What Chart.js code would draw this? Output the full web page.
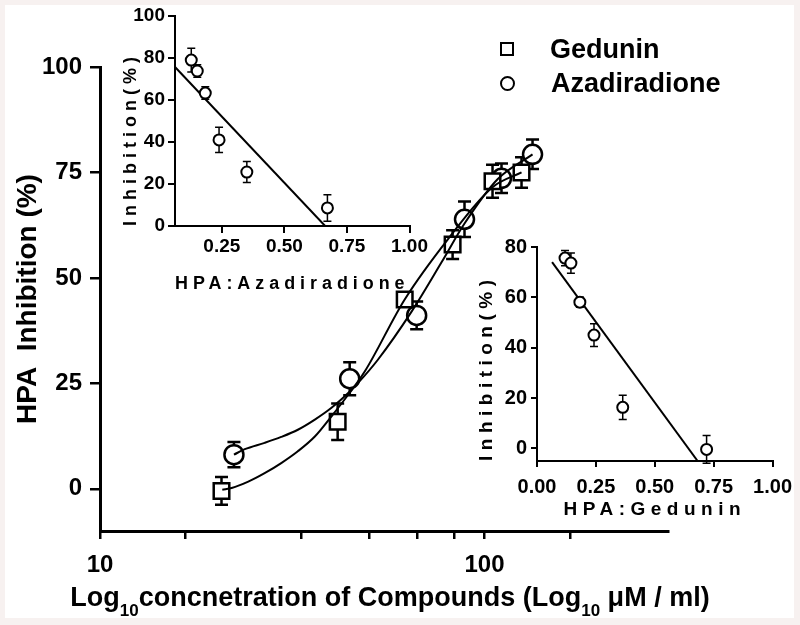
<!DOCTYPE html>
<html>
<head>
<meta charset="utf-8">
<script src="https://cdn.jsdelivr.net/npm/chart.js@4.4.1/dist/chart.umd.min.js"></script>
<style>
  html, body { margin: 0; padding: 0; }
  body {
    width: 800px; height: 625px; position: relative; overflow: hidden;
    background: #f7f1f0;
    font-family: "Liberation Sans", Arial, sans-serif;
  }
  #paper { position: absolute; left: 5px; top: 5px; width: 789px; height: 613px; background: #fff; }
  canvas { position: absolute; }
  #main { left: 0; top: 0; }
  #insetAz { left: 100px; top: 0; }
  #insetGed { left: 460px; top: 230px; }
  #legend { position: absolute; left: 500px; top: 32px; font-weight: bold; font-size: 27px; color: #000; }
  #legend .row { height: 34px; display: flex; align-items: center; }
  #legend .mk { width: 10px; height: 10px; border: 2px solid #000; margin-right: 36px; box-sizing: content-box; }
  #legend .mk.circle { width: 11px; height: 11px; border-radius: 50%; }
</style>
</head>
<body>
<div id="paper"></div>
<canvas id="main" width="800" height="625"></canvas>
<canvas id="insetAz" width="330" height="300"></canvas>
<canvas id="insetGed" width="340" height="300"></canvas>
<div id="legend"></div>
<script>
// main plot: concentration (log axis) vs % inhibition
const seriesNames = ['Gedunin', 'Azadiradione'];

const gedX = [20.7, 41.5, 62.0, 82.6, 104.9, 124.8];
const gedY = [-0.5, 15.9, 44.9, 57.9, 72.9, 75.0];
const gedErr = [3.3, 4.3, 1.5, 3.4, 3.9, 3.6];

const azX = [22.3, 44.6, 66.6, 88.7, 110.7, 133.3];
const azY = [8.1, 26.1, 41.1, 63.9, 73.6, 79.3];
const azErr = [3.0, 3.9, 3.3, 4.2, 3.5, 3.5];

// fitted curves
const gedCurveX = [20.8, 22.0, 24.3, 26.8, 29.6, 32.7, 36.2, 40.0, 44.2, 48.8, 62.0, 80.2, 104.9, 124.8];
const gedCurveY = [-0.2, 0.2, 1.7, 3.7, 6.1, 8.9, 12.4, 17.2, 22.3, 27.8, 44.9, 59.1, 71.5, 75.0];
const azCurveX = [22.3, 23.8, 26.8, 29.6, 32.7, 36.2, 40.0, 44.2, 46.9, 52.8, 64.6, 77.3, 88.7, 108.1, 133.3];
const azCurveY = [8.1, 9.4, 10.9, 12.3, 14.0, 16.4, 19.2, 22.7, 25.1, 30.6, 42.0, 53.7, 62.9, 73.4, 79.3];

const xTickValues = [10, 16.67, 33.33, 50, 66.67, 83.33, 100, 166.67];
const xTickLabels = ['10', '', '', '', '', '', '100', ''];
const yTickValues = [0, 25, 50, 75, 100];

// inset: HPA:Azadiradione
const azRatio = [0.128, 0.152, 0.184, 0.239, 0.350, 0.672];
const azInhib = [79.0, 73.8, 63.3, 41.0, 25.7, 8.6];
const azInhibErr = [5.7, 3.0, 3.0, 6.0, 5.0, 6.3];
const azLineX = [0.063, 0.663];
const azLineY = [75.7, 0];
const azInsetXTicks = [0.25, 0.5, 0.75, 1.0];
const azInsetYTicks = [0, 20, 40, 60, 80, 100];

// inset: HPA:Gedunin
const gedRatio = [0.119, 0.144, 0.182, 0.242, 0.364, 0.720];
const gedInhib = [75.6, 73.6, 58.1, 45.0, 16.3, -0.4];
const gedInhibErr = [3.0, 4.0, 2.0, 4.5, 4.8, 5.5];
const gedLineX = [0.064, 0.682];
const gedLineY = [74.0, -5.0];
const gedInsetXTicks = [0, 0.25, 0.5, 0.75, 1.0];
const gedInsetYTicks = [0, 20, 40, 60, 80];

const FONT = '"Liberation Sans", Arial, sans-serif';
Chart.defaults.font.family = FONT;
Chart.defaults.color = '#000';

const pts = (xs, ys) => xs.map((x, i) => ({ x: x, y: ys[i] }));

const errorBars = {
    id: 'errorBars',
    beforeDatasetsDraw(chart, args, opts) {
        const ctx = chart.ctx;
        chart.data.datasets.forEach((ds, i) => {
            if (!ds.errors) return;
            const meta = chart.getDatasetMeta(i);
            const yScale = chart.scales[meta.yAxisID];
            const half = opts.capWidth / 2;
            ctx.save();
            ctx.strokeStyle = '#000';
            ctx.lineWidth = opts.lineWidth;
            meta.data.forEach((el, j) => {
                const v = ds.data[j].y, e = ds.errors[j];
                const top = yScale.getPixelForValue(v + e);
                const bot = yScale.getPixelForValue(v - e);
                ctx.beginPath();
                ctx.moveTo(el.x, top); ctx.lineTo(el.x, bot);
                ctx.moveTo(el.x - half, top); ctx.lineTo(el.x + half, top);
                ctx.moveTo(el.x - half, bot); ctx.lineTo(el.x + half, bot);
                ctx.stroke();
            });
            ctx.restore();
        });
    }
};

// x title with subscripts, drawn by hand
const xTitle = {
    id: 'xTitle',
    afterDraw(chart, args, o) {
        const ctx = chart.ctx;
        const fontFor = p => `bold ${p.sub ? o.subSize : o.size}px ${FONT}`;
        ctx.save();
        ctx.fillStyle = '#000';
        ctx.textBaseline = 'alphabetic';
        ctx.textAlign = 'left';
        let total = 0;
        o.parts.forEach(p => { ctx.font = fontFor(p); total += ctx.measureText(p.text).width; });
        let x = o.centerX - total / 2;
        o.parts.forEach(p => {
            ctx.font = fontFor(p);
            ctx.fillText(p.text, x, p.sub ? o.baseline + o.subDrop : o.baseline);
            x += ctx.measureText(p.text).width;
        });
        ctx.restore();
    }
};

// letter-spaced axis titles in the insets; tick labels are drawn later without spacing
const spacedTitles = {
    id: 'spacedTitles',
    beforeDraw(chart, args, o) { chart.ctx.letterSpacing = o.spacing; },
    beforeDatasetsDraw(chart) { chart.ctx.letterSpacing = '0px'; }
};

const axisLine = (w) => ({ display: true, color: '#000', width: w });
const tickMarks = (len, w) => ({ drawOnChartArea: false, drawTicks: true, tickLength: len, color: '#000', lineWidth: w });

new Chart(document.getElementById('main'), {
    type: 'scatter',
    data: {
        datasets: [
            {
                type: 'line', label: seriesNames[0] + ' fit', data: pts(gedCurveX, gedCurveY),
                borderColor: '#000', borderWidth: 2, pointRadius: 0, fill: false,
                cubicInterpolationMode: 'monotone', order: 0
            },
            {
                type: 'line', label: seriesNames[1] + ' fit', data: pts(azCurveX, azCurveY),
                borderColor: '#000', borderWidth: 2, pointRadius: 0, fill: false,
                cubicInterpolationMode: 'monotone', order: 0
            },
            {
                label: seriesNames[0], data: pts(gedX, gedY), errors: gedErr,
                pointStyle: 'rect', pointRadius: 11, borderWidth: 2.5,
                borderColor: '#000', backgroundColor: '#fff', clip: false, order: 1
            },
            {
                label: seriesNames[1], data: pts(azX, azY), errors: azErr,
                pointStyle: 'circle', pointRadius: 9.5, borderWidth: 2.5,
                borderColor: '#000', backgroundColor: '#fff', clip: false, order: 1
            }
        ]
    },
    options: {
        responsive: false,
        animation: false,
        events: [],
        layout: { padding: { left: 0, top: 67, right: 132, bottom: 0 } },
        plugins: {
            legend: { display: false },
            tooltip: { enabled: false },
            errorBars: { capWidth: 13, lineWidth: 2.5 },
            xTitle: {
                size: 27, subSize: 17, baseline: 606, subDrop: 10, centerX: 390,
                parts: [
                    { text: 'Log' }, { text: '10', sub: true },
                    { text: 'concnetration of Compounds (Log' }, { text: '10', sub: true },
                    { text: ' \u03BCM / ml)' }
                ]
            }
        },
        scales: {
            x: {
                type: 'logarithmic', min: 10, max: 300,
                afterBuildTicks: s => { s.ticks = xTickValues.map(v => ({ value: v })); },
                afterFit: s => { s.height = 94; },
                ticks: {
                    autoSkip: false, maxRotation: 0, padding: 12,
                    font: { size: 24, weight: 'bold' },
                    callback: (v, i) => xTickLabels[i]
                },
                grid: tickMarks(8, 2.5),
                border: axisLine(3)
            },
            y: {
                min: -10, max: 100,
                afterBuildTicks: s => { s.ticks = yTickValues.map(v => ({ value: v })); },
                afterFit: s => { s.width = 100; },
                ticks: { padding: 8, font: { size: 24, weight: 'bold' } },
                grid: tickMarks(10, 2.5),
                border: axisLine(3),
                title: {
                    display: true, text: 'HPA  Inhibition (%)', color: '#000',
                    font: { size: 28, weight: 'bold' }, padding: { top: 11, bottom: 0 }
                }
            }
        }
    },
    plugins: [errorBars, xTitle]
});

function insetChart(canvasId, cfg) {
    return new Chart(document.getElementById(canvasId), {
        type: 'scatter',
        data: {
            datasets: [
                {
                    label: cfg.name, data: pts(cfg.x, cfg.y), errors: cfg.err,
                    pointStyle: 'circle', pointRadius: 5.5, borderWidth: 2,
                    borderColor: '#000', backgroundColor: '#fff', clip: false, order: 0
                },
                {
                    type: 'line', label: cfg.name + ' fit', data: pts(cfg.lineX, cfg.lineY),
                    borderColor: '#000', borderWidth: 2, pointRadius: 0, fill: false, order: 1
                }
            ]
        },
        options: {
            responsive: false,
            animation: false,
            events: [],
            layout: { padding: cfg.padding },
            plugins: {
                legend: { display: false },
                tooltip: { enabled: false },
                errorBars: { capWidth: 8, lineWidth: 1.5 },
                spacedTitles: { spacing: cfg.spacing }
            },
            scales: {
                x: {
                    type: 'linear', min: cfg.xMin, max: 1,
                    afterBuildTicks: s => { s.ticks = cfg.xTicks.map(v => ({ value: v })); },
                    afterFit: s => { s.height = cfg.xHeight; },
                    ticks: {
                        z: 1, autoSkip: false, maxRotation: 0, padding: cfg.xPad,
                        font: { size: cfg.fontSize, weight: 'bold' },
                        callback: v => v.toFixed(2)
                    },
                    grid: tickMarks(cfg.tick, 2),
                    border: axisLine(2),
                    title: {
                        display: true, text: cfg.xTitle, color: '#000',
                        font: { size: cfg.titleSize, weight: 'bold' },
                        padding: { top: 0, bottom: cfg.xTitlePad }
                    }
                },
                y: {
                    min: cfg.yMin, max: cfg.yMax,
                    afterBuildTicks: s => { s.ticks = cfg.yTicks.map(v => ({ value: v })); },
                    afterFit: s => { s.width = cfg.yWidth; },
                    ticks: { z: 1, padding: cfg.yPad, font: { size: cfg.fontSize, weight: 'bold' } },
                    grid: tickMarks(cfg.tick, 2),
                    border: axisLine(2),
                    title: {
                        display: true, text: 'Inhibition(%)', color: '#000', align: 'start',
                        font: { size: cfg.titleSize, weight: 'bold' },
                        padding: { top: cfg.yTitlePad, bottom: 0 }
                    }
                }
            }
        },
        plugins: [errorBars, spacedTitles]
    });
}

insetChart('insetAz', {
    name: 'HPA:Azadiradione', x: azRatio, y: azInhib, err: azInhibErr,
    lineX: azLineX, lineY: azLineY, xTicks: azInsetXTicks, yTicks: azInsetYTicks,
    xMin: 0.063, yMin: 0, yMax: 100, xTitle: 'HPA:Azadiradione',
    padding: { left: 0, top: 16, right: 20, bottom: 0 },
    xHeight: 74, yWidth: 75, tick: 7, xPad: 2, yPad: 3,
    fontSize: 19, titleSize: 18, xTitlePad: 5, yTitlePad: 20, spacing: '5px'
});

insetChart('insetGed', {
    name: 'HPA:Gedunin', x: gedRatio, y: gedInhib, err: gedInhibErr,
    lineX: gedLineX, lineY: gedLineY, xTicks: gedInsetXTicks, yTicks: gedInsetYTicks,
    xMin: 0, yMin: -5, yMax: 80, xTitle: 'HPA:Gedunin',
    padding: { left: 0, top: 17, right: 27, bottom: 0 },
    xHeight: 69, yWidth: 77, tick: 6, xPad: 8, yPad: 4,
    fontSize: 20, titleSize: 19, xTitlePad: 9, yTitlePad: 15.6, spacing: '5.5px'
});

// legend, built from the series names
const legend = document.getElementById('legend');
seriesNames.forEach((name, i) => {
    const row = document.createElement('div');
    row.className = 'row';
    const mk = document.createElement('span');
    mk.className = i === 0 ? 'mk' : 'mk circle';
    const label = document.createElement('span');
    label.textContent = name;
    row.appendChild(mk);
    row.appendChild(label);
    legend.appendChild(row);
});
</script>
</body>
</html>
